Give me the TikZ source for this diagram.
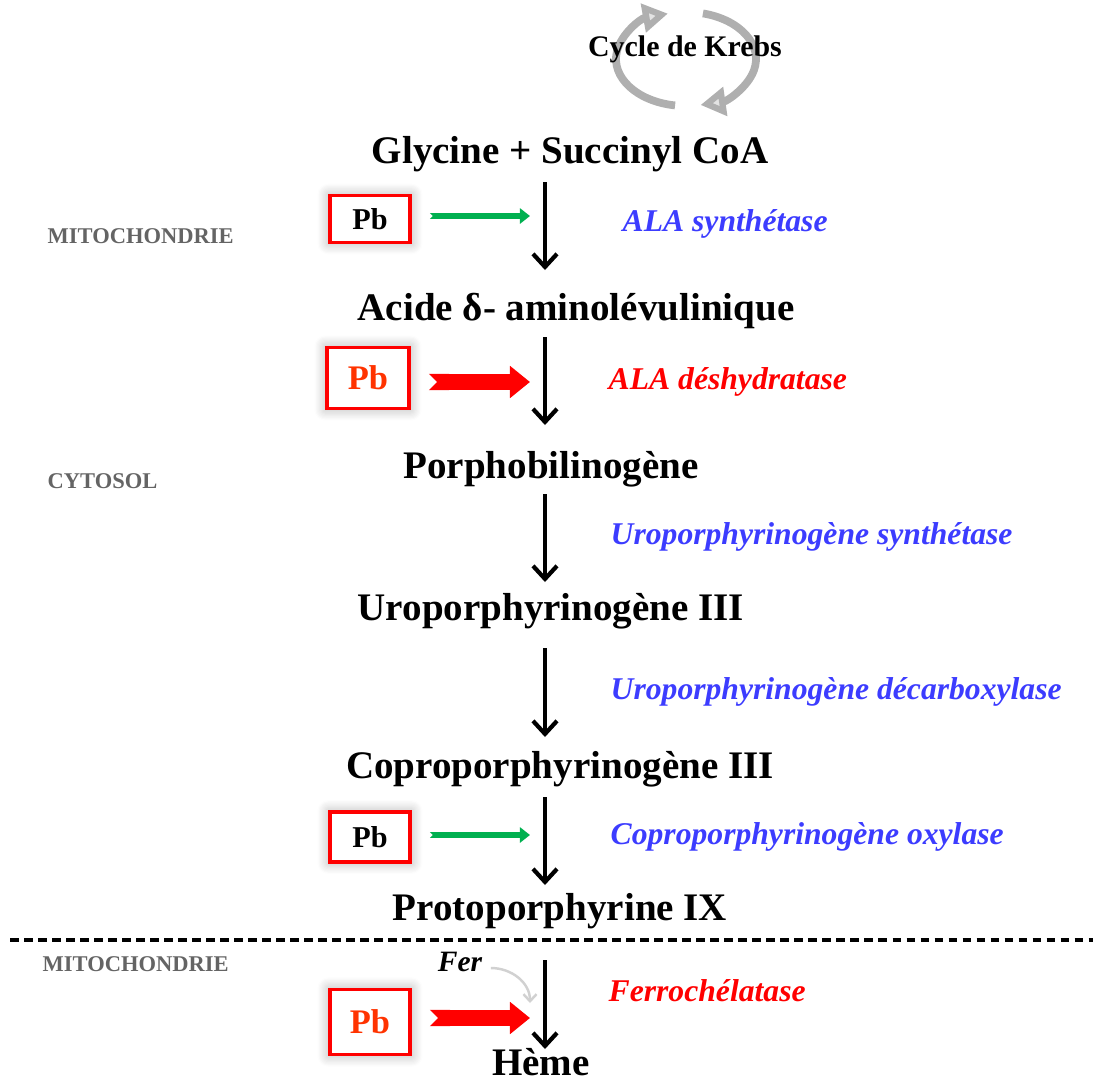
\documentclass[tikz,border=0pt]{standalone}
\usepackage{fontspec}
\setmainfont{Liberation Serif}
\usepackage{xcolor}
\usepackage{tikz}
\usetikzlibrary{arrows.meta,positioning,calc,shadows.blur}

\definecolor{enzblue}{RGB}{60,60,255}
\definecolor{pbred}{RGB}{255,0,0}
\definecolor{pbtext}{RGB}{255,51,0}
\definecolor{pbgreen}{RGB}{0,176,80}
\definecolor{zonegray}{RGB}{100,100,100}
\definecolor{krebsgray}{RGB}{175,175,175}

\tikzset{
  metab/.style={font=\fontsize{11.1}{13}\selectfont\bfseries, inner sep=0pt, anchor=base},
  enzyme/.style={font=\fontsize{9}{10}\selectfont\bfseries\itshape, inner sep=0pt, anchor=base west},
  zone/.style={font=\fontsize{6.4}{8}\selectfont\bfseries, text=zonegray, inner sep=0pt, anchor=base west},
  pbbox/.style={draw=pbred, line width=1.1pt, fill=white, inner sep=0pt,
    blur shadow={shadow xshift=0pt, shadow yshift=0pt, shadow blur radius=3pt, shadow opacity=30, shadow scale=1.04, shadow blur steps=10}},
  pathway/.style={line width=1.2pt, -{Straight Barb[length=0.13cm, width=0.24cm]}},
  weakpb/.style={draw=pbgreen, line width=1.6pt, {Triangle Cap[reversed]}-{Triangle[length=0.1cm, width=0.15cm]}},
  strongpb/.style={draw=pbred, line width=4.6pt, {Triangle Cap[reversed]}-{Triangle[length=0.2cm, width=0.31cm]}},
  krebsarc/.style={draw=krebsgray, line width=2.2pt, -{Triangle[length=0.25cm, width=0.28cm, fill=krebsgray!35]}}
}

\begin{document}
\begin{tikzpicture}[x=0.01cm, y=-0.01cm]
  \useasboundingbox (0,0) rectangle (1093,1081);
  \coordinate (axis) at (545,0);

  % Krebs cycle
  \coordinate (krebs) at (686,59);
  \draw[krebsarc] ($(krebs)+(-261:70 and 47)$) arc[start angle=-261, end angle=-105, x radius=70, y radius=47];
  \draw[krebsarc] ($(krebs)+(-76:70 and 47)$) arc[start angle=-76, end angle=78, x radius=70, y radius=47];
  \node[font=\fontsize{8.5}{10}\selectfont\bfseries, inner sep=0pt] (krebstext) at (685,49) {Cycle de Krebs};

  % metabolites
  \node[metab] (glycine) at (570,163) {Glycine + Succinyl CoA};
  \node[metab] (acide)   at (576,320) {Acide δ- aminolévulinique};
  \node[metab] (porpho)  at (551,478) {Porphobilinogène};
  \node[metab] (uro)     at (551,620) {Uroporphyrinogène III};
  \node[metab] (copro)   at (560,778) {Coproporphyrinogène III};
  \node[metab] (proto)   at (560,920) {Protoporphyrine IX};
  \node[metab] (heme)    at (541,1075) {Hème};

  \foreach \a/\b/\s/\e in {glycine/acide/19/50, acide/porpho/17/53, porpho/uro/16/38,
                           uro/copro/28/41, copro/proto/19/35, proto/heme/40/26}
    \draw[pathway] ($(\a.base -| axis)+(0,\s)$) -- ($(\b.base -| axis)+(0,-\e)$);

  % enzymes
  \node[enzyme, text=enzblue] (alas)  at (622,231) {ALA synthétase};
  \node[enzyme, text=pbred]   (alad)  at (608,389) {ALA déshydratase};
  \node[enzyme, text=enzblue] (uros)  at (610,544) {Uroporphyrinogène synthétase};
  \node[enzyme, text=enzblue] (urod)  at (610,699) {Uroporphyrinogène décarboxylase};
  \node[enzyme, text=enzblue] (coprox) at (610,844) {Coproporphyrinogène oxylase};
  \node[enzyme, text=pbred]   (ferro) at (608,1001) {Ferrochélatase};

  % compartments
  \node[zone] (mito1) at (47,243) {MITOCHONDRIE};
  \node[zone] (cyto)  at (47,488) {CYTOSOL};
  \node[zone] (mito2) at (42,971) {MITOCHONDRIE};
  \coordinate (dashl) at (10,940);
  \coordinate (dashr) at (1093,940);
  \draw[line width=1pt, dash pattern=on 0.085cm off 0.055cm] (dashl) -- (dashr);

  % lead inhibition
  \node[pbbox, minimum width=0.8cm, minimum height=0.47cm, font=\fontsize{8.6}{9}\selectfont\bfseries] (pb1) at (370,219) {Pb};
  \node[pbbox, minimum width=0.82cm, minimum height=0.61cm, font=\fontsize{9.8}{11}\selectfont\bfseries, text=pbtext] (pb2) at (368,378) {Pb};
  \node[pbbox, minimum width=0.8cm, minimum height=0.5cm, font=\fontsize{8.6}{9}\selectfont\bfseries] (pb3) at (370,837) {Pb};
  \node[pbbox, minimum width=0.8cm, minimum height=0.65cm, font=\fontsize{9.8}{11}\selectfont\bfseries, text=pbtext] (pb4) at (370,1022) {Pb};

  \draw[weakpb] ($(pb1.east)+(18,-3)$) -- ($(pb1.east -| axis)+(-15,-3)$);
  \draw[strongpb] ($(pb2.east)+(18,4)$) -- ($(pb2.east -| axis)+(-15,4)$);
  \draw[weakpb] ($(pb3.east)+(18,-2)$) -- ($(pb3.east -| axis)+(-15,-2)$);
  \draw[strongpb] ($(pb4.east)+(18,-4)$) -- ($(pb4.east -| axis)+(-15,-4)$);

  % iron
  \node[font=\fontsize{8.4}{9}\selectfont\bfseries\itshape, inner sep=0pt] (fer) at (460,962) {Fer};
  \coordinate (ferend) at (530,1003);
  \draw[black!18, line width=0.7pt, -{Straight Barb[length=0.07cm, width=0.13cm]}] ($(fer.east)+(8,6)$) to[out=0, in=90] (ferend);
\end{tikzpicture}
\end{document}
